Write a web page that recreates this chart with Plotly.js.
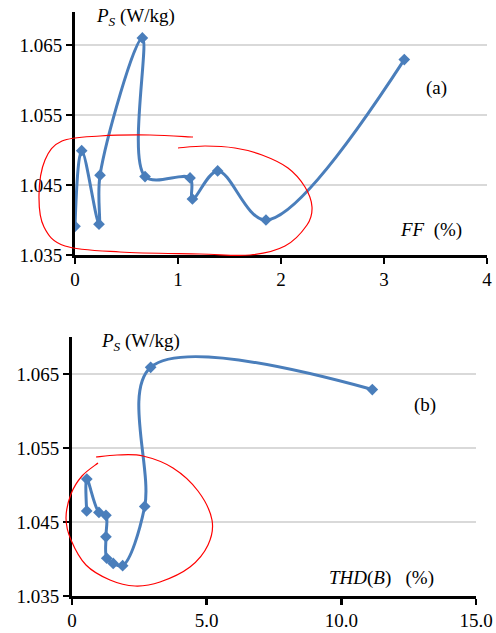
<!DOCTYPE html>
<html>
<head>
<meta charset="utf-8">
<script src="https://cdn.plot.ly/plotly-3.0.1.min.js"></script>
<style>html,body{margin:0;padding:0;background:#fff;}#chart{width:496px;height:633px;}</style>
</head>
<body>
<div id="chart"></div>
<script>
// (a) P_S versus FF
const ffValues = [0, 0.065, 0.233, 0.243, 0.654, 0.68, 1.117, 1.14, 1.385, 1.854, 3.197];
const psA      = [1.0391, 1.0499, 1.0394, 1.0464, 1.0660, 1.0462, 1.0460, 1.0430, 1.0470, 1.0400, 1.0629];
// (b) P_S versus THD(B)
const thdValues = [0.546, 0.55, 1.0, 1.26, 1.26, 1.29, 1.53, 1.88, 2.70, 2.92, 11.15];
const psB       = [1.0465, 1.0508, 1.0463, 1.0459, 1.0430, 1.0401, 1.0394, 1.0391, 1.0471, 1.0659, 1.0629];

const yTicks = [1.035, 1.045, 1.055, 1.065];
const yTickText = ['1.035', '1.045', '1.055', '1.065'];
const xTicksA = [0, 1, 2, 3, 4];
const xTickTextA = ['0', '1', '2', '3', '4'];
const xTicksB = [0, 5, 10, 15];
const xTickTextB = ['0', '5.0', '10.0', '15.0'];

// layout helpers (pixel -> paper)
const L = 70, R = 5, T = 10, B = 30, W = 496, H = 633;
const PW = W - L - R, PH = H - T - B;
const px = v => (v - L) / PW;
const py = v => (H - B - v) / PH;

// freehand red loops (pixel positions of the hand-drawn marks)
const loopA1 = [[193,137],[150,135],[100,136],[62,141],[45,160],[39,195],[44,227],[65,246],[120,252],[200,254],[250,255],[285,246],[307,225],[312,207],[305,187],[288,168],[262,155],[235,148],[205,146],[178,148]];
const loopB1 = [[96,457],[117,455],[143,456],[173,468],[198,491],[212,520],[208,545],[190,567],[160,582],[135,586],[110,580],[86,565],[71,540],[66,518],[71,494],[82,476],[98,463]];

function smoothPath(pts) {
  const p = pts.map(q => [px(q[0]), py(q[1])]);
  let d = 'M' + p[0][0] + ',' + p[0][1];
  for (let i = 0; i < p.length - 1; i++) {
    const p0 = p[i - 1] || p[i], p1 = p[i], p2 = p[i + 1], p3 = p[i + 2] || p[i + 1];
    const c1 = [p1[0] + (p2[0] - p0[0]) / 6, p1[1] + (p2[1] - p0[1]) / 6];
    const c2 = [p2[0] - (p3[0] - p1[0]) / 6, p2[1] - (p3[1] - p1[1]) / 6];
    d += ' C' + c1[0] + ',' + c1[1] + ' ' + c2[0] + ',' + c2[1] + ' ' + p2[0] + ',' + p2[1];
  }
  return d;
}

const blue = '#4a7ebb';
const lineStyle = {color: blue, width: 3, shape: 'spline', smoothing: 1};
const markerStyle = {symbol: 'diamond', size: 9, color: blue};

const traces = [
  {x: ffValues, y: psA, xaxis: 'x', yaxis: 'y', mode: 'lines+markers', line: lineStyle, marker: markerStyle, hoverinfo: 'x+y'},
  {x: thdValues, y: psB, xaxis: 'x2', yaxis: 'y2', mode: 'lines+markers', line: lineStyle, marker: markerStyle, hoverinfo: 'x+y'}
];

const font = {family: 'Liberation Serif', size: 19, color: '#000'};
const yAxisBase = {
  tickvals: yTicks, ticktext: yTickText, showgrid: true, gridcolor: '#d9d9d9', gridwidth: 1.5,
  showline: true, linecolor: '#000', linewidth: 3, ticks: 'outside', ticklen: 6, tickwidth: 2.5, tickcolor: '#000',
  zeroline: false, tickfont: font, fixedrange: true
};
const xAxisBase = {
  showgrid: false, showline: true, linecolor: '#000', linewidth: 2.5, ticks: 'outside', ticklen: 6, tickwidth: 2.5,
  tickcolor: '#000', zeroline: false, tickfont: font, fixedrange: true
};

const layout = {
  width: W, height: H,
  margin: {l: L, r: R, t: T, b: B},
  paper_bgcolor: '#fff', plot_bgcolor: '#fff',
  showlegend: false,
  font: font,
  xaxis: Object.assign({}, xAxisBase, {domain: [px(75), px(487)], range: [0, 4], tickvals: xTicksA, ticktext: xTickTextA, anchor: 'y'}),
  yaxis: Object.assign({}, yAxisBase, {domain: [py(255), py(12)], range: [1.035, 1.0697], anchor: 'x'}),
  xaxis2: Object.assign({}, xAxisBase, {domain: [px(72), px(476)], range: [0, 15], tickvals: xTicksB, ticktext: xTickTextB, anchor: 'y2'}),
  yaxis2: Object.assign({}, yAxisBase, {domain: [py(596), py(337)], range: [1.035, 1.070], anchor: 'x2'}),
  annotations: [
    {xref: 'paper', yref: 'paper', x: px(94), y: py(17), xanchor: 'left', yanchor: 'middle', showarrow: false,
     text: '<i>P</i><sub><i>S</i></sub> (W/kg)', font: font},
    {xref: 'paper', yref: 'paper', x: px(424), y: py(88), xanchor: 'left', yanchor: 'middle', showarrow: false,
     text: '(a)', font: font},
    {xref: 'paper', yref: 'paper', x: px(398), y: py(230), xanchor: 'left', yanchor: 'middle', showarrow: false,
     text: '<i>FF</i>  (%)', font: font},
    {xref: 'paper', yref: 'paper', x: px(99), y: py(342), xanchor: 'left', yanchor: 'middle', showarrow: false,
     text: '<i>P</i><sub><i>S</i></sub> (W/kg)', font: font},
    {xref: 'paper', yref: 'paper', x: px(412), y: py(405), xanchor: 'left', yanchor: 'middle', showarrow: false,
     text: '(b)', font: font},
    {xref: 'paper', yref: 'paper', x: px(327), y: py(578), xanchor: 'left', yanchor: 'middle', showarrow: false,
     text: '<i>THD</i>(<i>B</i>)   (%)', font: font}
  ],
  shapes: [
    {type: 'path', xref: 'paper', yref: 'paper', path: smoothPath(loopA1), line: {color: '#ff0000', width: 1.2}},
    {type: 'path', xref: 'paper', yref: 'paper', path: smoothPath(loopB1), line: {color: '#ff0000', width: 1.2}}
  ]
};

Plotly.newPlot('chart', traces, layout, {displayModeBar: false, staticPlot: true});
</script>
</body>
</html>
